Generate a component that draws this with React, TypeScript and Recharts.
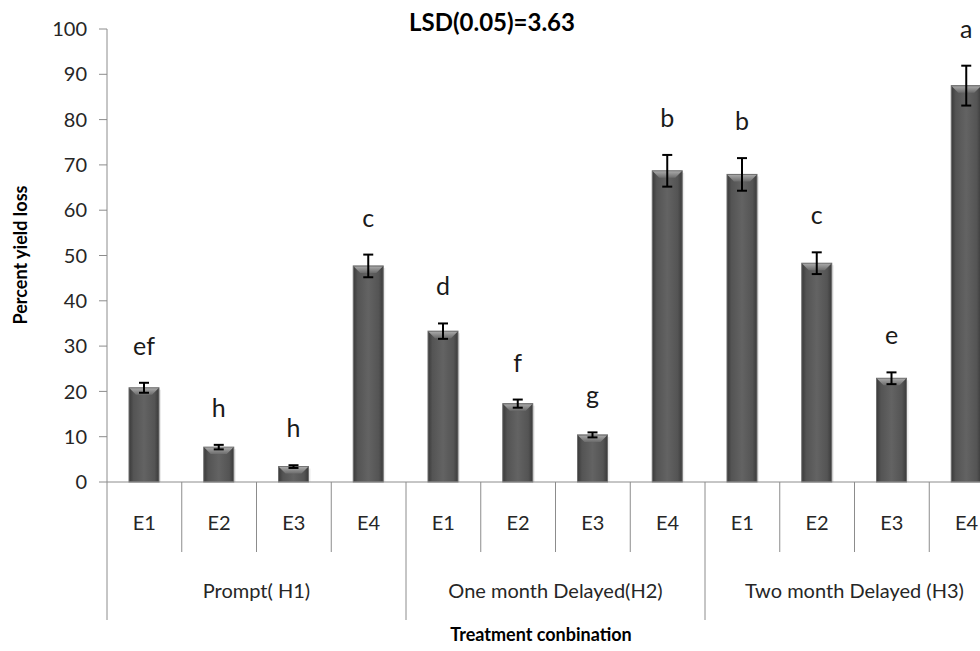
import { BarChart, Bar, XAxis, YAxis, ErrorBar, Customized } from 'recharts'

// Harvest timing groups and the four entries inside each group
const TIMINGS = ['Prompt( H1)', 'One month Delayed(H2)', 'Two month Delayed (H3)']
const ENTRIES = ['E1', 'E2', 'E3', 'E4']

// Percent yield loss per treatment (H1 E1..E4, H2 E1..E4, H3 E1..E4)
const YIELD_LOSS = [20.8, 7.7, 3.4, 47.7, 33.3, 17.3, 10.4, 68.7, 67.9, 48.3, 22.9, 87.5]
// Standard error of each mean
const STD_ERR = [1.1, 0.5, 0.3, 2.5, 1.7, 0.9, 0.55, 3.5, 3.6, 2.4, 1.3, 4.4]
// Mean separation letters (LSD 0.05)
const LETTERS = ['ef', 'h', 'h', 'c', 'd', 'f', 'g', 'b', 'b', 'c', 'e', 'a']

const Y_TICKS = [0, 10, 20, 30, 40, 50, 60, 70, 80, 90, 100]

const rows = YIELD_LOSS.map((loss, i) => ({
  id: i,
  entry: ENTRIES[i % ENTRIES.length],
  timing: TIMINGS[Math.floor(i / ENTRIES.length)],
  loss,
  err: STD_ERR[i],
  letter: LETTERS[i],
}))

const FONT = 'Lato, "Open Sans", sans-serif'
const AXIS_GREY = '#8c8c8c'

const CHART_W = 1011
const CHART_H = 651
const PLOT_LEFT = 107
const PLOT_TOP = 29
const PLOT_RIGHT_MARGIN = 7
const PLOT_BOTTOM = 482
const BAND = (CHART_W - PLOT_RIGHT_MARGIN - PLOT_LEFT) / rows.length
const PX_PER_UNIT = (PLOT_BOTTOM - PLOT_TOP) / 100

function BevelBar(props: any) {
  const { x, y, width, height, payload } = props
  if (height <= 0) return null
  const b = Math.min(7, height / 2, width / 2)
  const errTop = y - payload.err * PX_PER_UNIT
  return (
    <g>
      <rect x={x + 2} y={y + 2} width={width} height={height - 2} fill="#000" opacity={0.08} />
      <rect
        x={x}
        y={y}
        width={width}
        height={height}
        fill="url(#barBody)"
        stroke="#6e6e6e"
        strokeWidth={1}
      />
      <polygon
        points={`${x + 0.5},${y + 0.5} ${x + width - 0.5},${y + 0.5} ${x + width - b},${y + b} ${x + b},${y + b}`}
        fill="url(#barTop)"
      />
      <text
        x={x + width / 2}
        y={errTop - 28}
        textAnchor="middle"
        fontFamily={FONT}
        fontSize={25}
        fill="#1a1a1a"
      >
        {payload.letter}
      </text>
    </g>
  )
}

function CategoryTick(props: any) {
  const { x, payload } = props
  const i = payload.index
  const left = x - BAND / 2
  const groupStart = i % ENTRIES.length === 0
  const showGroup = i % ENTRIES.length === 1
  return (
    <g>
      <line
        x1={left}
        x2={left}
        y1={PLOT_BOTTOM}
        y2={groupStart ? 620 : 552}
        stroke={AXIS_GREY}
        strokeWidth={1}
      />
      <text
        x={x}
        y={530}
        textAnchor="middle"
        fontFamily={FONT}
        fontSize={20}
        fill="#262626"
      >
        {rows[i].entry}
      </text>
      {showGroup && (
        <text
          x={x + BAND / 2}
          y={598}
          textAnchor="middle"
          fontFamily={FONT}
          fontSize={20}
          fill="#262626"
        >
          {rows[i].timing}
        </text>
      )}
    </g>
  )
}

function Titles() {
  return (
    <g fontFamily={FONT} fontWeight={700} fill="#000">
      <text x={492} y={31} textAnchor="middle" fontSize={24}>
        LSD(0.05)=3.63
      </text>
      <text x={541} y={641} textAnchor="middle" fontSize={18}>
        Treatment conbination
      </text>
      <text
        x={27}
        y={255}
        textAnchor="middle"
        fontSize={18}
        transform="rotate(-90 27 255)"
      >
        Percent yield loss
      </text>
    </g>
  )
}

export default function App() {
  return (
    <div
      style={{
        position: 'fixed',
        left: 0,
        top: 0,
        width: 980,
        height: 651,
        overflow: 'hidden',
        background: '#fff',
      }}
    >
      <svg width={0} height={0} style={{ position: 'absolute' }}>
        <defs>
          <linearGradient id="barBody" x1="0" y1="0" x2="1" y2="0">
            <stop offset="0" stopColor="#3a3a3a" />
            <stop offset="0.15" stopColor="#545454" />
            <stop offset="0.5" stopColor="#636363" />
            <stop offset="0.85" stopColor="#545454" />
            <stop offset="1" stopColor="#3a3a3a" />
          </linearGradient>
          <linearGradient id="barTop" x1="0" y1="0" x2="0" y2="1">
            <stop offset="0" stopColor="#a8a8a8" />
            <stop offset="1" stopColor="#6c6c6c" />
          </linearGradient>
        </defs>
      </svg>
      <BarChart
        width={CHART_W}
        height={CHART_H}
        data={rows}
        margin={{ top: PLOT_TOP, right: PLOT_RIGHT_MARGIN, left: 0, bottom: 0 }}
      >
        <XAxis
          dataKey="id"
          type="category"
          height={CHART_H - PLOT_BOTTOM}
          axisLine={{ stroke: AXIS_GREY }}
          tickLine={false}
          tick={<CategoryTick />}
          interval={0}
        />
        <YAxis
          width={PLOT_LEFT}
          domain={[0, 100]}
          ticks={Y_TICKS}
          interval={0}
          axisLine={{ stroke: AXIS_GREY }}
          tickLine={{ stroke: AXIS_GREY }}
          tickSize={8}
          tickMargin={12}
          tick={{ fontSize: 20, fill: '#262626', fontFamily: FONT }}
        />
        <Bar dataKey="loss" barSize={30} shape={<BevelBar />} isAnimationActive={false}>
          <ErrorBar dataKey="err" width={5} stroke="#000" strokeWidth={2} />
        </Bar>
        <Customized component={Titles} />
      </BarChart>
    </div>
  )
}
